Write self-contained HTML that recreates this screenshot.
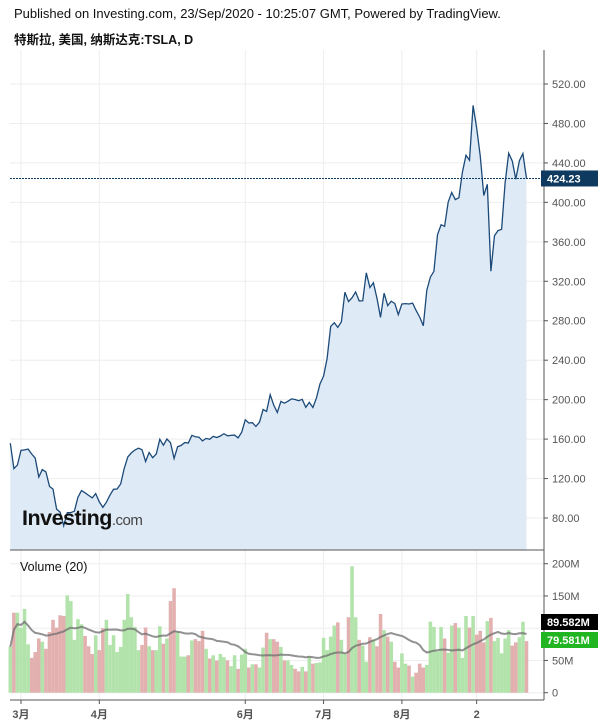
<!DOCTYPE html>
<html><head><meta charset="utf-8"><style>
body{margin:0;background:#fff;width:604px;height:728px;overflow:hidden;font-family:"Liberation Sans","Noto Sans CJK SC",sans-serif}
.t1{position:absolute;left:14px;top:6px;font-size:13px;color:#111}
.t2{position:absolute;left:14px;top:29px;font-size:12.5px;font-weight:bold;color:#111}
svg{position:absolute;left:0;top:0}
</style></head><body>
<div class="t1">Published on Investing.com, 23/Sep/2020 - 10:25:07 GMT, Powered by TradingView.</div>
<div class="t2">特斯拉, 美国, 纳斯达克:TSLA, D</div>
<svg id="c" width="604" height="728"></svg>
<script>
const closes=[155.8,130.1,133.6,
148.7,149.1,149.9,144.9,140.7,121.6,129.1,126.8,112.1,109.3,89.0,86.0,72.2,85.5,85.5,86.9,101.0,107.8,105.6,102.9,100.4,104.8,
96.3,90.9,96.0,103.2,109.1,109.4,114.6,130.2,142.0,146.0,149.0,150.8,149.3,137.3,146.4,141.1,145.0,159.8,153.8,160.1,156.4,
140.3,152.2,153.6,156.5,156.0,163.9,162.3,161.9,158.2,160.7,159.8,162.7,161.6,163.1,165.5,163.4,163.8,164.1,161.2,167.0,
179.6,176.3,176.6,172.9,177.1,190.0,188.1,205.0,194.6,187.1,198.2,196.4,198.4,200.8,200.2,198.9,200.4,192.2,197.2,192.0,201.9,216.0,
223.9,241.7,274.3,278.0,273.2,278.9,308.9,299.4,303.4,309.2,300.1,300.2,328.6,313.7,318.5,302.6,283.4,307.9,295.3,299.8,297.5,286.2,
297.0,297.4,297.0,297.9,290.5,283.7,274.9,311.0,324.2,330.1,367.1,377.4,375.7,400.4,410.0,402.8,404.7,430.6,447.8,442.7,498.3,
475.1,447.4,407.0,418.3,330.2,366.3,371.3,372.7,419.6,449.8,441.8,423.4,442.2,449.4,424.23];
const volumes=[71,124,124,101,130,75,54,63,84,79,68,94,113,101,120,119,151,142,82,114,106,88,72,60,89,66,100,113,74,89,63,71,113,153,117,102,66,74,101,72,66,66,103,76,84,142,162,95,56,56,58,81,83,80,96,68,53,58,50,60,55,50,41,58,37,59,68,39,44,44,39,70,93,83,83,79,71,50,50,43,37,33,40,
33,56,45,46,47,85,66,87,104,109,82,60,117,196,117,82,73,48,86,82,72,122,97,87,79,48,39,61,45,42,25,31,45,39,43,110,102,64,102,84,62,104,108,101,54,119,101,119,90,96,78,111,116,80,85,61,84,97,73,78,86,110,80];
const priceTicks=[80,120,160,200,240,280,320,360,400,440,480,520];
const volTicks=[0,50,150,200];
const monthLabels=["3月","4月","6月","7月","8月","2"];
const monthIdx=[3,25,66,88,110,131];
const lastPrice=424.23, volMA="89.582M", volLast="79.581M";

const NS="http://www.w3.org/2000/svg",svg=document.getElementById('c');
const X=i=>10.3+i*3.56, PY=v=>84+(520-v)*0.9864, VY=v=>692.7-v*0.645;
function mk(t,a,p){const e=document.createElementNS(NS,t);for(const k in a)e.setAttribute(k,a[k]);(p||svg).appendChild(e);return e;}
priceTicks.forEach(v=>{const l=mk('line',{x1:10,x2:544,y1:PY(v),y2:PY(v),stroke:'#eee'});});
volTicks.concat([100]).forEach(v=>{const l=mk('line',{x1:10,x2:544,y1:VY(v),y2:VY(v),stroke:'#eee'});});
monthIdx.forEach(i=>{const l=mk('line',{x1:X(i),x2:X(i),y1:50,y2:700,stroke:'#eee'});});
let d='';closes.forEach((v,i)=>d+=(i?'L':'M')+X(i).toFixed(1)+','+PY(v).toFixed(1));
const area=mk('path',{d:d+'L'+X(closes.length-1)+',550L'+X(0)+',550Z',fill:'#dfeaf7'});

const pl=mk('path',{d:d,fill:'none',stroke:'#1c4a78','stroke-width':1.3});

const dl=mk('line',{x1:10,x2:541,y1:PY(lastPrice),y2:PY(lastPrice),stroke:'#0e3a5f','stroke-dasharray':'2,1'});

volumes.forEach((v,i)=>{const up=i==0||closes[i]>=closes[i-1];
 const b=mk('rect',{x:X(i)-1.78,y:VY(v),width:3.56,height:692.7-VY(v),fill:up?'#b1e3aa':'#e3b0b0'});
 });
let md='';volumes.forEach((v,i)=>{const s=volumes.slice(Math.max(0,i-19),i+1);const m=s.reduce((a,b)=>a+b,0)/s.length;md+=(i?'L':'M')+X(i).toFixed(1)+','+VY(m).toFixed(1);});
const ma=mk('path',{d:md,fill:'none',stroke:'rgba(110,110,110,0.75)','stroke-width':2});

[[544,50,544,700],[10,550,544,550],[10,700,544,700]].forEach(a=>{const l=mk('line',{x1:a[0],y1:a[1],x2:a[2],y2:a[3],stroke:'#555'});});
priceTicks.forEach(v=>{mk('line',{x1:544,x2:548,y1:PY(v),y2:PY(v),stroke:'#555'});
 const t=mk('text',{x:552,y:PY(v)+4,'font-size':11,fill:'#555'});t.textContent=v.toFixed(2);
 });
volTicks.forEach(v=>{mk('line',{x1:544,x2:548,y1:VY(v),y2:VY(v),stroke:'#555'});
 const t=mk('text',{x:552,y:VY(v)+4,'font-size':11,fill:'#555'});t.textContent=v?v+'M':'0';
 });
monthLabels.forEach((m,i)=>{mk('line',{x1:X(monthIdx[i]),x2:X(monthIdx[i]),y1:700,y2:704,stroke:'#555'});
 const t=mk('text',{x:X(monthIdx[i]),y:718,'font-size':11,'font-weight':'bold',fill:'#555','text-anchor':'middle'});t.textContent=m;
 });
function badge(y,txt,bg,name){const g=mk('g',{});
 mk('rect',{x:541,y:y-8,width:57,height:16,fill:bg},g);const t=mk('text',{x:547,y:y+4,'font-size':11,'font-weight':'bold',fill:'#fff'},g);t.textContent=txt;}
badge(PY(lastPrice),lastPrice.toFixed(2),'#0e3a5f','last-price-badge');
badge(622,volMA,'#000','volume-ma-badge');
badge(640,volLast,'#22b522','volume-last-badge');
const vt=mk('text',{x:20,y:571,'font-size':12.5,fill:'#111'});vt.textContent='Volume (20)';

const lg=mk('text',{x:22,y:525,'font-size':21.5,'font-weight':'bold',fill:'#111','letter-spacing':'-0.5'});lg.textContent='Investing';

const lc=mk('tspan',{'font-size':15,'font-weight':'normal',fill:'#444'},lg);lc.textContent='.com';
</script>
</body></html>
